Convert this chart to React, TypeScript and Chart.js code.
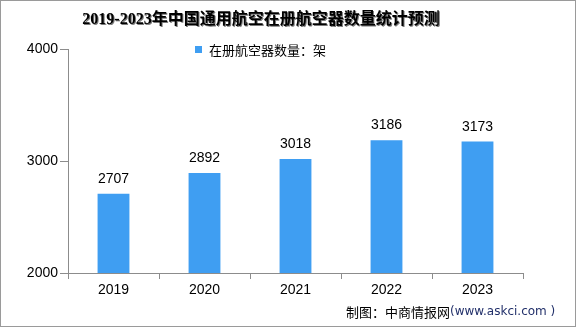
import React, { useEffect, useRef } from "react";
import { Chart, registerables } from "chart.js";

Chart.register(...registerables);

const categories = ["2019", "2020", "2021", "2022", "2023"];
const seriesName = "在册航空器数量：架";
const values = [2707, 2892, 3018, 3186, 3173];
const yTicks = [2000, 3000, 4000];
const titleText = "2019-2023年中国通用航空在册航空器数量统计预测";
const footerPrefix = "制图：中商情报网";
const footerUrl = "(www.askci.com )";

const BAR_COLOR = "#3f9ef2";
const AXIS_COLOR = "#8c8c8c";
const NUM_FAMILY = "'Liberation Sans Narrow', 'Liberation Sans', sans-serif";
const NUM_FONT = "14px " + NUM_FAMILY;

const decorPlugin = {
  id: "decor",
  beforeDraw(chart: any) {
    const ctx = chart.ctx;
    ctx.save();
    ctx.fillStyle = "#ffffff";
    ctx.fillRect(0, 0, chart.width, chart.height);
    ctx.restore();
  },
  afterDraw(chart: any) {
    const ctx = chart.ctx;
    ctx.save();
    // title with slight shadow
    ctx.font = "bold 16px 'Liberation Serif', 'Noto Sans CJK SC', serif";
    ctx.textAlign = "center";
    ctx.textBaseline = "middle";
    ctx.fillStyle = "#7a7a7a";
    ctx.fillText(titleText, 262, 21);
    ctx.fillStyle = "#000000";
    ctx.fillText(titleText, 261, 20);

    // legend
    ctx.fillStyle = BAR_COLOR;
    ctx.fillRect(195, 46, 7, 7);
    ctx.fillStyle = "#000000";
    ctx.font = "13px 'Noto Sans CJK SC', sans-serif";
    ctx.textAlign = "left";
    ctx.fillText(seriesName, 209, 50);

    // data labels
    const meta = chart.getDatasetMeta(0);
    ctx.font = NUM_FONT;
    ctx.textAlign = "center";
    ctx.textBaseline = "alphabetic";
    meta.data.forEach((bar: any, i: number) => {
      ctx.fillText(String(values[i]), bar.x, bar.y - 11);
    });

    // footer
    ctx.textBaseline = "middle";
    ctx.textAlign = "left";
    ctx.font = "13px 'Noto Sans CJK SC', sans-serif";
    ctx.fillStyle = "#000000";
    const fx = 346;
    ctx.fillText(footerPrefix, fx, 312);
    const w = ctx.measureText(footerPrefix).width;
    ctx.font = "12px 'DejaVu Sans', sans-serif";
    ctx.fillStyle = "#22306a";
    ctx.fillText(footerUrl, fx + w, 312);

    // border
    ctx.strokeStyle = "#9a9a9a";
    ctx.lineWidth = 1;
    ctx.strokeRect(0.5, 0.5, chart.width - 1, chart.height - 1);
    ctx.restore();
  },
};

export default function App() {
  const ref = useRef<HTMLCanvasElement | null>(null);
  useEffect(() => {
    document.body.style.margin = "0";
    if (!ref.current) return;
    const chart = new Chart(ref.current, {
      type: "bar",
      data: {
        labels: categories,
        datasets: [
          {
            label: seriesName,
            data: values,
            backgroundColor: BAR_COLOR,
            categoryPercentage: 1,
            barPercentage: 0.35,
          },
        ],
      },
      options: {
        animation: false,
        responsive: false,
        layout: { padding: { left: 0, right: 53, top: 49, bottom: 0 } },
        plugins: {
          legend: { display: false },
          title: { display: false },
          tooltip: { enabled: false },
        },
        scales: {
          x: {
            grid: {
              offset: true,
              drawOnChartArea: false,
              color: AXIS_COLOR,
              tickLength: 6,
            },
            border: { color: AXIS_COLOR },
            ticks: { color: "#000", font: { family: NUM_FAMILY, size: 14 }, padding: 3 },
            afterFit(scale: any) {
              scale.height = 54;
            },
          },
          y: {
            min: 2000,
            max: 4000,
            afterBuildTicks(scale: any) {
              scale.ticks = yTicks.map((v) => ({ value: v }));
            },
            grid: {
              drawOnChartArea: false,
              color: AXIS_COLOR,
              tickLength: 8,
            },
            border: { color: AXIS_COLOR },
            ticks: {
              color: "#000",
              font: { family: NUM_FAMILY, size: 14 },
              padding: 2,
              callback: (v: any) => String(v),
            },
            afterFit(scale: any) {
              scale.width = 68;
            },
          },
        },
      },
      plugins: [decorPlugin],
    });
    return () => chart.destroy();
  }, []);
  return <canvas ref={ref} width={576} height={327} style={{ display: "block" }} />;
}
